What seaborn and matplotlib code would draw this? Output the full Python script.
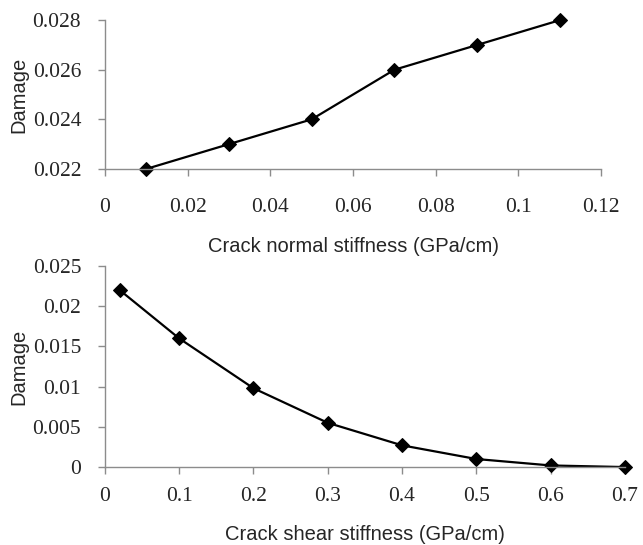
import pandas as pd
import matplotlib.pyplot as plt
import seaborn as sns

# Top panel: crack normal stiffness
normal_stiffness = [0.01, 0.03, 0.05, 0.07, 0.09, 0.11]
normal_damage = [0.022, 0.023, 0.024, 0.026, 0.027, 0.028]

# Bottom panel: crack shear stiffness
shear_stiffness = [0.02, 0.1, 0.2, 0.3, 0.4, 0.5, 0.6, 0.7]
shear_damage = [0.022, 0.016, 0.0098, 0.0055, 0.0027, 0.001, 0.0002, 0.0]

top_xticks = [0, 0.02, 0.04, 0.06, 0.08, 0.1, 0.12]
top_yticks = [0.022, 0.024, 0.026, 0.028]
bot_xticks = [0, 0.1, 0.2, 0.3, 0.4, 0.5, 0.6, 0.7]
bot_yticks = [0, 0.005, 0.01, 0.015, 0.02, 0.025]

df_n = pd.DataFrame({"x": normal_stiffness, "y": normal_damage})
df_s = pd.DataFrame({"x": shear_stiffness, "y": shear_damage})

sns.set_style("white")

fig = plt.figure(figsize=(6.43, 5.45), dpi=100)
ax1 = fig.add_axes([0.163, 0.690, 0.772, 0.273])
ax2 = fig.add_axes([0.163, 0.143, 0.809, 0.369])

tick_font = {"family": "Liberation Serif", "size": 15.5}
label_font = {"family": "Liberation Sans", "size": 14.5}


def style_axis(ax, xticks, yticks, xlabel, xpad, labelpad):
    ax.set_xlim(xticks[0], xticks[-1])
    ax.set_ylim(yticks[0], yticks[-1])
    ax.set_xticks(xticks)
    ax.set_yticks(yticks)
    ax.set_xticklabels([f"{t:g}" for t in xticks], fontdict=tick_font)
    ax.set_yticklabels([f"{t:g}" for t in yticks], fontdict=tick_font)
    ax.set_xlabel(xlabel, fontdict=label_font, labelpad=labelpad)
    ax.set_ylabel("Damage", fontdict=label_font, labelpad=3)
    for side in ["top", "right"]:
        ax.spines[side].set_visible(False)
    for side in ["left", "bottom"]:
        ax.spines[side].set_color("#8c8c8c")
        ax.spines[side].set_linewidth(1.0)
    ax.tick_params(axis="both", direction="out", length=5, width=1.0,
                   color="#8c8c8c", left=True, bottom=True)
    ax.tick_params(axis="y", pad=12)
    ax.tick_params(axis="x", pad=xpad)


sns.lineplot(data=df_n, x="x", y="y", ax=ax1, color="black", linewidth=1.6,
             marker="D", markersize=7.5, markeredgecolor="black", clip_on=False)
style_axis(ax1, top_xticks, top_yticks, "Crack normal stiffness (GPa/cm)", 16, 14)

sns.lineplot(data=df_s, x="x", y="y", ax=ax2, color="black", linewidth=1.6,
             marker="D", markersize=7.5, markeredgecolor="black", clip_on=False)
style_axis(ax2, bot_xticks, bot_yticks, "Crack shear stiffness (GPa/cm)", 9, 14)

fig.savefig("out.png", dpi=100)
